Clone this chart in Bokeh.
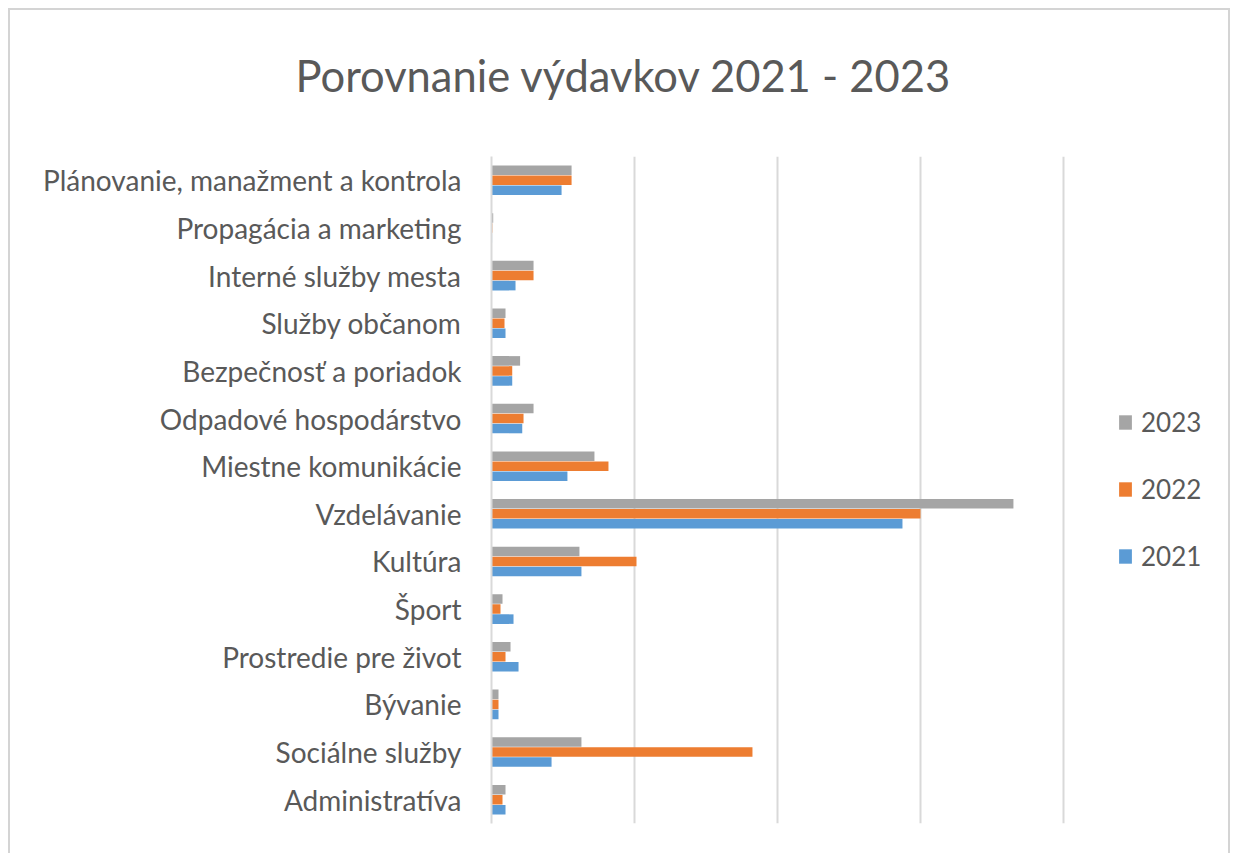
from bokeh.plotting import figure
from bokeh.models import ColumnDataSource, FactorRange, Legend, LegendItem, FixedTicker, Title
from bokeh.transform import dodge
from bokeh.embed import file_html
from bokeh.resources import INLINE

# categories, top to bottom as in the chart
categories = [
    "Plánovanie, manažment a kontrola",
    "Propagácia a marketing",
    "Interné služby mesta",
    "Služby občanom",
    "Bezpečnosť a poriadok",
    "Odpadové hospodárstvo",
    "Miestne komunikácie",
    "Vzdelávanie",
    "Kultúra",
    "Šport",
    "Prostredie pre život",
    "Bývanie",
    "Sociálne služby",
    "Administratíva",
]
v2023 = [560, 12, 294, 98, 200, 294, 720, 3650, 615, 77, 133, 49, 629, 98]
v2022 = [560, 6, 294, 91, 145, 224, 818, 3000, 1014, 63, 98, 49, 1825, 77]
v2021 = [490, 4, 168, 98, 145, 215, 531, 2874, 629, 154, 189, 49, 420, 98]
years = ["2023", "2022", "2021"]
colors = ["#A5A5A5", "#ED7D31", "#5B9BD5"]
grid_values = [1000, 2000, 3000, 4000]

title_text = "Porovnanie výdavkov 2021 - 2023"
TEXT = "#595959"
FONT = "Lato"

src = ColumnDataSource(dict(cat=categories, y2023=v2023, y2022=v2022, y2021=v2021))

W, H = 1222, 845
FRAME_L, FRAME_T, FRAME_B = 481, 146, 32
p = figure(
    width=W, height=H, title=None,
    y_range=FactorRange(factors=list(reversed(categories)), range_padding=0),
    x_range=(0, 5182),
    output_backend="svg", toolbar_location=None,
    min_border_left=FRAME_L, min_border_right=0, min_border_top=FRAME_T, min_border_bottom=FRAME_B,
)
p.styles = {"margin-left": "8px", "margin-top": "8px",
            "border-left": "2px solid #d4d4d4", "border-top": "2px solid #d4d4d4",
            "border-right": "2px solid #d4d4d4"}
p.outline_line_color = None
p.background_fill_color = "white"
p.border_fill_color = "white"

renderers = []
offsets = [0.21, 0.0, -0.21]
for yr, col, off in zip(years, colors, offsets):
    r = p.hbar(y=dodge("cat", off, range=p.y_range), right="y" + yr, left=0,
               height=0.2, color=col, line_color=None, source=src)
    renderers.append(r)

p.xaxis.visible = False
p.xgrid.ticker = FixedTicker(ticks=grid_values)
p.xgrid.grid_line_color = "#D9D9D9"
p.xgrid.grid_line_width = 2
p.ygrid.visible = False

ax = p.yaxis[0]
ax.axis_line_color = "#D9D9D9"
ax.axis_line_width = 2
ax.major_tick_line_color = None
ax.major_tick_out = 0
ax.major_tick_in = 0
ax.major_label_standoff = 30
ax.major_label_text_font = FONT
ax.major_label_text_font_size = "28px"
ax.major_label_text_color = TEXT

# spacer panel next to the frame (white, tiny), then the title above it
spacer = Title(text=".", text_font_size="1px", text_color="white", standoff=51)
p.add_layout(spacer, "above")
main_title = Title(
    text=title_text, align="left", offset=-196, vertical_align="top", standoff=0,
    text_font=FONT, text_font_size="43.5px", text_font_style="normal", text_color=TEXT,
)
p.add_layout(main_title, "above")

legend = Legend(
    items=[LegendItem(label=yr, renderers=[r]) for yr, r in zip(years, renderers)],
    location=(626, 251),
    label_text_font=FONT, label_text_font_size="26px", label_text_color=TEXT,
    glyph_width=16, glyph_height=18, label_height=32, label_standoff=8,
    spacing=35, padding=0, margin=0,
    border_line_color=None, background_fill_alpha=0,
)
p.add_layout(legend, "center")

open("out.html", "w").write(file_html(p, INLINE))
